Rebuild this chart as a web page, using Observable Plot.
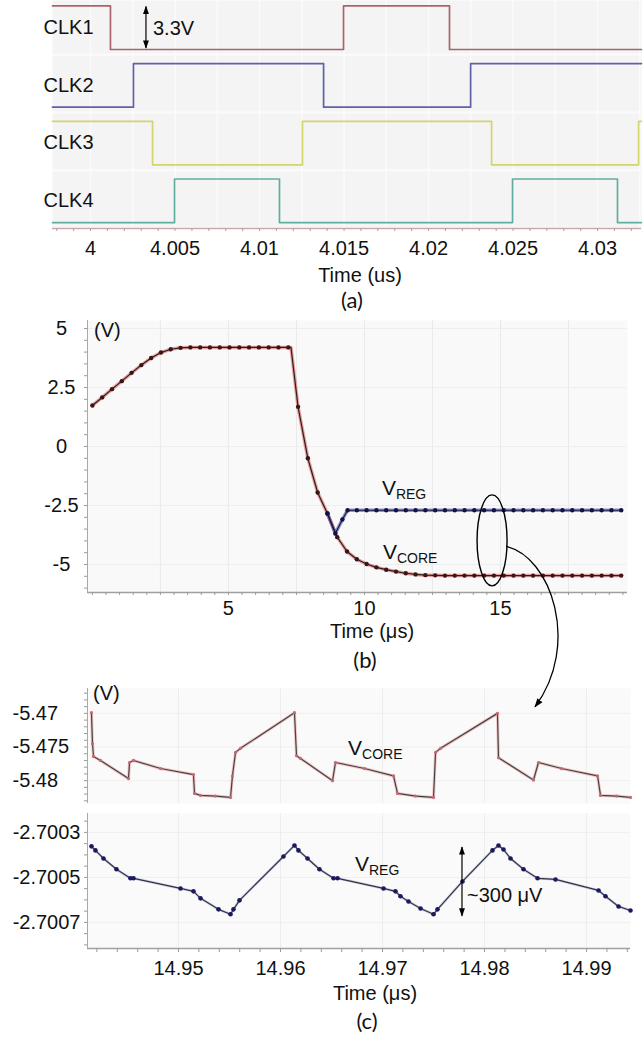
<!DOCTYPE html>
<html>
<head>
<meta charset="utf-8">
<script src="https://cdn.jsdelivr.net/npm/d3@7"></script>
<script src="https://cdn.jsdelivr.net/npm/@observablehq/plot@0.6"></script>
<style>
  html, body { margin: 0; padding: 0; background: #fff; overflow: hidden; }
  #fig { position: relative; width: 644px; height: 1042px; background: #fff; }
  #fig svg { position: absolute; left: 0; overflow: visible; }
</style>
</head>
<body>
<div id="fig"></div>
<script>
// ================= DATA =================
// ---- Panel (a): four clock phases (time in us, level in V)
const clkNames = ["CLK1", "CLK2", "CLK3", "CLK4"];
const clk1Times  = [3.99775, 4.00118, 4.01497, 4.02124, 4.03260];
const clk1Levels = [3.3, 0, 3.3, 0, 0];
const clk2Times  = [3.99775, 4.00254, 4.01379, 4.02249, 4.03260];
const clk2Levels = [0, 3.3, 0, 3.3, 3.3];
const clk3Times  = [3.99775, 4.00367, 4.01254, 4.02373, 4.03243, 4.03260];
const clk3Levels = [3.3, 0, 3.3, 0, 3.3, 3.3];
const clk4Times  = [3.99775, 4.00497, 4.01118, 4.02497, 4.03118, 4.03260];
const clk4Levels = [0, 3.3, 0, 3.3, 0, 0];
const aTicks = [4, 4.005, 4.01, 4.015, 4.02, 4.025, 4.03];
const aTickLabels = ["4", "4.005", "4.01", "4.015", "4.02", "4.025", "4.03"];

// ---- Panel (b): start-up transient (time in us, V)
const bTime = [0, 0.36, 0.72, 1.08, 1.44, 1.8, 2.16, 2.52, 2.88, 3.24, 3.6, 3.96, 4.32, 4.68, 5.04, 5.4, 5.76, 6.12, 6.48, 6.84, 7.2,
  7.56, 7.92, 8.28, 8.64, 9, 9.36, 9.72, 10.08, 10.44, 10.8, 11.16, 11.52, 11.88, 12.24, 12.6,
  12.96, 13.32, 13.68, 14.04, 14.4, 14.76, 15.12, 15.48, 15.84, 16.2, 16.56, 16.92, 17.28, 17.64, 18, 18.36, 18.72, 19.08, 19.44];
const bVcore = [1.74, 2.08, 2.43, 2.77, 3.12, 3.45, 3.75, 3.98, 4.12, 4.18, 4.2, 4.2, 4.2, 4.2, 4.2, 4.2, 4.2, 4.2, 4.2, 4.2, 4.2,
  1.68, -0.5, -1.95, -2.84, -3.84, -4.45, -4.78, -4.98, -5.12, -5.22, -5.3, -5.37, -5.42, -5.45, -5.46,
  -5.47, -5.47, -5.47, -5.47, -5.47, -5.47, -5.47, -5.47, -5.47, -5.47, -5.47, -5.47, -5.47, -5.47, -5.47, -5.47, -5.47, -5.47, -5.47];
const bCornerTime = [7.3];
const bCornerV = [4.2];
const bVregTime = [8.64, 8.93, 9.19, 9.38, 9.72, 10.08, 10.44, 10.8, 11.16, 11.52, 11.88, 12.24, 12.6, 12.96, 13.32, 13.68,
  14.04, 14.4, 14.76, 15.12, 15.48, 15.84, 16.2, 16.56, 16.92, 17.28, 17.64, 18, 18.36, 18.72, 19.08, 19.44];
const bVreg = [-2.84, -3.69, -3.09, -2.7, -2.7, -2.7, -2.7, -2.7, -2.7, -2.7, -2.7, -2.7, -2.7, -2.7, -2.7, -2.7,
  -2.7, -2.7, -2.7, -2.7, -2.7, -2.7, -2.7, -2.7, -2.7, -2.7, -2.7, -2.7, -2.7, -2.7, -2.7, -2.7];
const bYTicks = [5, 2.5, 0, -2.5, -5];
const bYTickLabels = ["5", "2.5", "0", "-2.5", "-5"];
const bXTicks = [5, 10, 15];
const bXTickLabels = ["5", "10", "15"];

// ---- Panel (c): steady-state ripple (time in us, V)
const cVcoreTime = [14.94147, 14.94157, 14.94167, 14.94235, 14.9451, 14.9452, 14.94559, 14.94824, 14.95147, 14.95157, 14.95216, 14.95363, 14.9551,
  14.95529, 14.95559, 14.95608, 14.96137, 14.96157, 14.96196, 14.9651, 14.96539, 14.96824, 14.97108, 14.97147, 14.97324, 14.975,
  14.9752, 14.97569, 14.98127, 14.98137, 14.9848, 14.98529, 14.98755, 14.99108, 14.99137, 14.99294, 14.99431];
const cVcore = [-5.4699, -5.4745, -5.4764, -5.477, -5.4797, -5.4773, -5.477, -5.4782, -5.4791, -5.4819, -5.4822, -5.4823, -5.4825,
  -5.4793, -5.4758, -5.4752, -5.4699, -5.4763, -5.4767, -5.48, -5.4773, -5.4782, -5.4793, -5.4819, -5.4823, -5.4825,
  -5.4758, -5.4752, -5.47, -5.4766, -5.4799, -5.4773, -5.4782, -5.4793, -5.4822, -5.4823, -5.4825];
const cVregTime = [14.94147, 14.94186, 14.94265, 14.94392, 14.94529, 14.94559, 14.9502, 14.95147, 14.95216, 14.95392, 14.9551, 14.95539,
  14.95598, 14.96029, 14.96137, 14.96176, 14.96265, 14.96382, 14.9652, 14.96559, 14.9701, 14.97127, 14.97176, 14.97255, 14.97373,
  14.975, 14.97539, 14.97784, 14.98078, 14.98137, 14.98186, 14.98255, 14.98382, 14.9852, 14.98696, 14.99118, 14.99186, 14.99314, 14.99431];
const cVreg = [-2.700362, -2.70038, -2.700416, -2.700464, -2.700504, -2.700504, -2.700549, -2.700562, -2.700593, -2.700642, -2.700664, -2.700642,
  -2.700602, -2.700407, -2.700358, -2.70038, -2.700416, -2.700464, -2.700504, -2.700504, -2.700549, -2.700562, -2.700584, -2.700607, -2.700638,
  -2.700664, -2.700642, -2.700518, -2.70038, -2.700358, -2.700376, -2.700416, -2.700464, -2.700504, -2.700509, -2.700558, -2.700584, -2.700629, -2.700647];
const c1YTicks = [-5.47, -5.475, -5.48];
const c1YTickLabels = ["-5.47", "-5.475", "-5.48"];
const c2YTicks = [-2.7003, -2.7005, -2.7007];
const c2YTickLabels = ["-2.7003", "-2.7005", "-2.7007"];
const cXTicks = [14.95, 14.96, 14.97, 14.98, 14.99];
const cXTickLabels = ["14.95", "14.96", "14.97", "14.98", "14.99"];

// ================= STYLE =================
const FONT = '"Liberation Sans", Arial, sans-serif';
const CAPFONT = 'Lato, "Open Sans", sans-serif';
const clkColors = ["#a8646c", "#6060a8", "#d4d46c", "#62ae9e"];
const fig = document.getElementById("fig");
const baseStyle = {fontFamily: FONT, fontSize: "20px", background: "transparent", color: "#111"};
const fmt = (ticks, labels) => d => labels[ticks.indexOf(d)];
function place(svg, top) { svg.style.top = top + "px"; fig.appendChild(svg); }

// ================= PANEL (a) =================
const CH_STEP = 4.37; // vertical stacking step between traces (V)
const clkTimes = [clk1Times, clk2Times, clk3Times, clk4Times];
const clkLevels = [clk1Levels, clk2Levels, clk3Levels, clk4Levels];
const aData = clkNames.flatMap((name, i) => clkTimes[i].map((t, j) => ({name, t, v: clkLevels[i][j] + (3 - i) * CH_STEP})));
const aX = [3.99775, 4.0326], aY = [-0.45, 16.82];
const A_TOP = 0;
const plotA = Plot.plot({
  width: 644, height: 300, marginLeft: 52, marginRight: 3, marginTop: 0, marginBottom: 72,
  style: baseStyle,
  x: {domain: aX, axis: null, label: null},
  y: {domain: aY, axis: null, label: null},
  color: {domain: clkNames, range: clkColors},
  marks: [
    Plot.frame({fill: "#f4f4f4", stroke: "none"}),
    Plot.gridX({ticks: d3.range(4, 4.033, 0.0025), stroke: "#fbfbfb", strokeOpacity: 1, strokeWidth: 1.5}),
    Plot.gridY({ticks: [0, 1, 2, 3].map(i => i * CH_STEP - 0.4), stroke: "#fbfbfb", strokeOpacity: 1, strokeWidth: 2}),
    Plot.line(aData, {x: "t", y: "v", z: "name", stroke: "name", curve: "step-after", strokeWidth: 1.7}),
    Plot.text(clkNames, {y: (d, i) => (3 - i) * CH_STEP + 1.65, text: d => d, frameAnchor: "left", textAnchor: "start", dx: -9, fontSize: 20, fill: "#111"}),
    Plot.ruleY([aY[0]], {stroke: "#c9abab", strokeWidth: 1.3}),
    Plot.axisX({ticks: d3.range(3.998, 4.0326, 0.001), tickFormat: () => "", tickSize: 3, stroke: "#b59e9e", label: null}),
    Plot.axisX({ticks: aTicks, tickFormat: fmt(aTicks, aTickLabels), tickSize: 0, tickPadding: 12, fontSize: 20, fill: "#111", label: null})
  ]
});
place(plotA, A_TOP);

// ================= PANEL (b) =================
const bX = [-0.18, 19.67], bY = [-6.186, 5.339];
const B_TOP = 300;
const bLine = bTime.map((t, i) => ({t, v: bVcore[i]}))
  .concat(bCornerTime.map((t, i) => ({t, v: bCornerV[i]})))
  .sort((a, b) => a.t - b.t);
const bDots = bTime.map((t, i) => ({t, v: bVcore[i]}));
const bReg = bVregTime.map((t, i) => ({t, v: bVreg[i]}));
const plotB = Plot.plot({
  width: 644, height: 380, marginLeft: 87, marginRight: 17, marginTop: 20, marginBottom: 88,
  style: baseStyle,
  x: {domain: bX, axis: null, label: null},
  y: {domain: bY, axis: null, label: null},
  marks: [
    Plot.frame({fill: "#f9f9f9", stroke: "none"}),
    Plot.gridX({ticks: d3.range(2.5, 19.6, 2.5), stroke: "#e9e9e9", strokeOpacity: 1}),
    Plot.gridY({ticks: d3.range(-5, 5.1, 2.5), stroke: "#eeeeee", strokeOpacity: 1}),
    Plot.ruleX([bX[0]], {stroke: "#a8a8a8"}),
    Plot.ruleY([bY[0]], {stroke: "#a0a0a0", strokeWidth: 1.5}),
    Plot.axisY({ticks: d3.range(-6, 5.3, 0.5), tickFormat: () => "", tickSize: 3, stroke: "#9a9a9a", label: null}),
    Plot.axisX({ticks: d3.range(0, 19.7, 0.5), tickFormat: () => "", tickSize: 3, stroke: "#9a9a9a", label: null}),
    Plot.axisY({ticks: bYTicks, tickFormat: fmt(bYTicks, bYTickLabels), tickSize: 0, tickPadding: 26, textAnchor: "middle", fontSize: 20, fill: "#111", label: null}),
    Plot.axisX({ticks: bXTicks, tickFormat: fmt(bXTicks, bXTickLabels), tickSize: 0, tickPadding: 8, fontSize: 20, fill: "#111", label: null}),
    Plot.line(bLine, {x: "t", y: "v", stroke: "#d85a5a", strokeWidth: 3.5, strokeOpacity: 0.55}),
    Plot.line(bReg, {x: "t", y: "v", stroke: "#3c3cb8", strokeWidth: 3.5, strokeOpacity: 0.55}),
    Plot.line(bLine, {x: "t", y: "v", stroke: "#2e1c1c", strokeWidth: 1.2}),
    Plot.line(bReg, {x: "t", y: "v", stroke: "#1c1c30", strokeWidth: 1.2}),
    Plot.dot(bDots, {x: "t", y: "v", r: 2.2, fill: "#3a1616", stroke: "none"}),
    Plot.dot(bReg, {x: "t", y: "v", r: 2.2, fill: "#12124c", stroke: "none"})
  ]
});
place(plotB, B_TOP);

// ================= PANEL (c) =================
const cX = [14.94108, 14.99431];
const c1Y = [-5.4834, -5.4663];
const c2Y = [-2.700816, -2.700216];
const C1_TOP = 680, C2_TOP = 810;
const cCore = cVcoreTime.map((t, i) => ({t, v: cVcore[i]}));
const cReg = cVregTime.map((t, i) => ({t, v: cVreg[i]}));
const plotC1 = Plot.plot({
  width: 644, height: 130, marginLeft: 87, marginRight: 14, marginTop: 8, marginBottom: 7,
  style: baseStyle,
  x: {domain: cX, axis: null, label: null},
  y: {domain: c1Y, axis: null, label: null},
  marks: [
    Plot.frame({fill: "#fafafa", stroke: "none"}),
    Plot.gridX({ticks: cXTicks, stroke: "#ededed", strokeOpacity: 1}),
    Plot.gridY({ticks: c1YTicks, stroke: "#efefef", strokeOpacity: 1}),
    Plot.ruleX([cX[0]], {stroke: "#a8a8a8"}),
    Plot.axisY({ticks: d3.range(-5.483, -5.4665, 0.001), tickFormat: () => "", tickSize: 3, stroke: "#9a9a9a", label: null}),
    Plot.axisY({ticks: c1YTicks, tickFormat: fmt(c1YTicks, c1YTickLabels), tickSize: 0, tickPadding: 75, textAnchor: "start", fontSize: 20, fill: "#111", label: null}),
    Plot.line(cCore, {x: "t", y: "v", stroke: "#e09a9a", strokeWidth: 3, strokeOpacity: 0.55}),
    Plot.line(cCore, {x: "t", y: "v", stroke: "#4a4040", strokeWidth: 1.2}),
    Plot.dot(cCore, {x: "t", y: "v", r: 1.6, fill: "#c26a76", stroke: "none"})
  ]
});
place(plotC1, C1_TOP);

const plotC2 = Plot.plot({
  width: 644, height: 232, marginLeft: 87, marginRight: 14, marginTop: 3, marginBottom: 94,
  style: baseStyle,
  x: {domain: cX, axis: null, label: null},
  y: {domain: c2Y, axis: null, label: null},
  marks: [
    Plot.frame({fill: "#fafafa", stroke: "none"}),
    Plot.gridX({ticks: cXTicks, stroke: "#ededed", strokeOpacity: 1}),
    Plot.gridY({ticks: c2YTicks, stroke: "#efefef", strokeOpacity: 1}),
    Plot.ruleX([cX[0]], {stroke: "#a8a8a8"}),
    Plot.ruleY([c2Y[0]], {stroke: "#a0a0a0", strokeWidth: 1.5}),
    Plot.axisY({ticks: d3.range(-2.70080, -2.70022, 0.00005), tickFormat: () => "", tickSize: 3, stroke: "#9a9a9a", label: null}),
    Plot.axisX({ticks: d3.range(14.942, 14.9943, 0.002), tickFormat: () => "", tickSize: 4, stroke: "#9a9a9a", label: null}),
    Plot.axisY({ticks: c2YTicks, tickFormat: fmt(c2YTicks, c2YTickLabels), tickSize: 0, tickPadding: 7, textAnchor: "end", fontSize: 20, fill: "#111", label: null}),
    Plot.axisX({ticks: cXTicks, tickFormat: fmt(cXTicks, cXTickLabels), tickSize: 0, tickPadding: 12, fontSize: 20, fill: "#111", label: null}),
    Plot.line(cReg, {x: "t", y: "v", stroke: "#8080c8", strokeWidth: 2.6, strokeOpacity: 0.35}),
    Plot.line(cReg, {x: "t", y: "v", stroke: "#333340", strokeWidth: 1.2}),
    Plot.dot(cReg, {x: "t", y: "v", r: 2.3, fill: "#1a1a5e", stroke: "none"})
  ]
});
place(plotC2, C2_TOP);

// ================= ANNOTATIONS (positioned via the plots' scales) =================
const sxA = plotA.scale("x").apply, syA = plotA.scale("y").apply;
const sxB = plotB.scale("x").apply, syB = plotB.scale("y").apply;
const sxC = plotC1.scale("x").apply, syC1 = plotC1.scale("y").apply, syC2 = plotC2.scale("y").apply;
const ov = d3.create("svg").attr("width", 644).attr("height", 1042).style("top", "0px").style("pointer-events", "none");
const defs = ov.append("defs");
defs.append("marker").attr("id", "ah").attr("viewBox", "0 0 10 10").attr("refX", 9).attr("refY", 5)
  .attr("markerWidth", 7).attr("markerHeight", 7).attr("orient", "auto-start-reverse")
  .append("path").attr("d", "M0,1.5 L10,5 L0,8.5 z").attr("fill", "#000");
function txt(x, y, s, opts = {}) {
  return ov.append("text").attr("x", x).attr("y", y).attr("font-family", opts.font || FONT)
    .attr("font-size", opts.size || 20).attr("text-anchor", opts.anchor || "middle")
    .attr("dominant-baseline", opts.baseline || "central").attr("fill", "#111").text(s);
}
function subLabel(x, y, main, sub) {
  const t = ov.append("text").attr("x", x).attr("y", y).attr("font-family", FONT).attr("fill", "#111");
  t.append("tspan").attr("font-size", 21).text(main);
  t.append("tspan").attr("font-size", 14).attr("dy", 4).text(sub);
}
function dblArrow(x, y1, y2) {
  ov.append("line").attr("x1", x).attr("x2", x).attr("y1", y1).attr("y2", y2)
    .attr("stroke", "#000").attr("stroke-width", 1.2)
    .attr("marker-start", "url(#ah)").attr("marker-end", "url(#ah)");
}

// (a) 3.3 V swing of CLK1
const a33x = sxA(4.00331);
dblArrow(a33x, A_TOP + syA(3 * CH_STEP + 3.3) + 1, A_TOP + syA(3 * CH_STEP) - 1);
txt(a33x + 7, A_TOP + syA(3 * CH_STEP + 1.65) + 1, "3.3V", {anchor: "start"});
txt(360, 275, "Time (us)");
txt(352, 299, "(a)", {font: CAPFONT, size: 22});

// (b) labels
txt(94, 330, "(V)", {anchor: "start"});
subLabel(sxB(10.66), B_TOP + syB(-2.08), "V", "REG");
subLabel(sxB(10.7), B_TOP + syB(-4.79), "V", "CORE");
txt(372, 631, "Time (\u03bcs)");
txt(365, 659, "(b)", {font: CAPFONT, size: 22});
// ellipse + curved arrow to panel (c)
const ex = sxB(14.71), ey = B_TOP + syB(-4.0);
ov.append("ellipse").attr("cx", ex).attr("cy", ey).attr("rx", 15).attr("ry", 45.5)
  .attr("fill", "none").attr("stroke", "#000").attr("stroke-width", 1.4);
const sx0 = ex + 14, sy0 = ey + 6;
const ex1 = sxC(14.985), ey1 = C1_TOP + syC1(-5.4691);
ov.append("path")
  .attr("d", `M${sx0},${sy0} C${sx0 + 45},${sy0 + 10} ${ex1 + 46},${ey1 - 62} ${ex1},${ey1}`)
  .attr("fill", "none").attr("stroke", "#000").attr("stroke-width", 1.3).attr("marker-end", "url(#ah)");

// (c) labels
txt(93, 693, "(V)", {anchor: "start"});
subLabel(sxC(14.96667), C1_TOP + syC1(-5.47627), "V", "CORE");
subLabel(sxC(14.96735), C2_TOP + syC2(-2.700473), "V", "REG");
const rx = sxC(14.97784);
dblArrow(rx, C2_TOP + syC2(-2.700367), C2_TOP + syC2(-2.700673));
txt(rx + 5, C2_TOP + syC2(-2.70058), "~300 \u03bcV", {anchor: "start"});
txt(375, 993, "Time (\u03bcs)");
txt(367, 1020, "(c)", {font: CAPFONT, size: 22});

fig.appendChild(ov.node());
</script>
</body>
</html>
